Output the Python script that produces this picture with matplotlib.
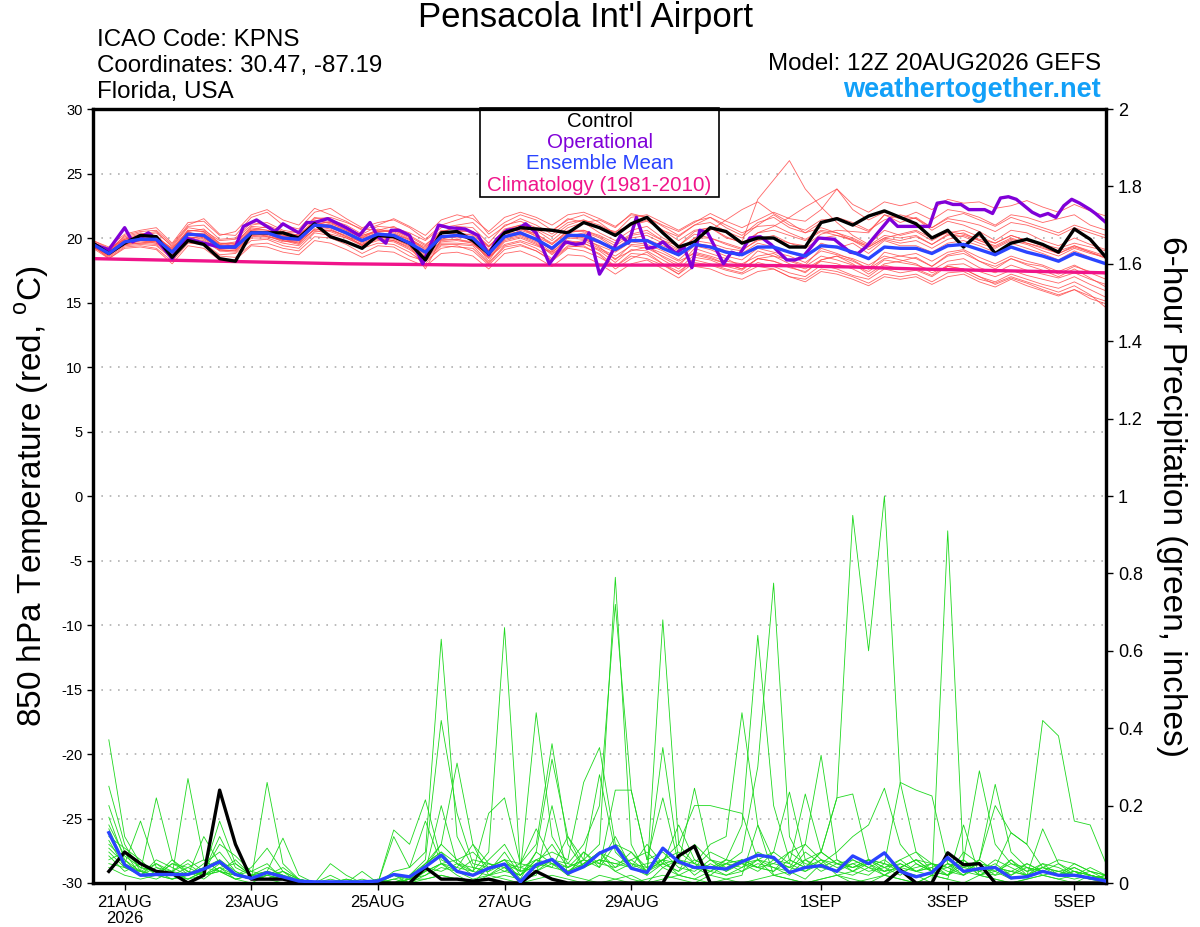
import matplotlib
matplotlib.use("Agg")
import matplotlib.pyplot as plt
from matplotlib.patches import Rectangle

plt.rcParams['font.family'] = ['Liberation Sans', 'DejaVu Sans']
plt.rcParams['axes.unicode_minus'] = False

# forecast hours from 12Z 20AUG2026 (6-hourly)
hours = list(range(0, 385, 6))
precip_hours = list(range(6, 385, 6))

tick_hours = [12, 60, 108, 156, 204, 276, 324, 372]
tick_labels = ['21AUG\n2026', '23AUG', '25AUG', '27AUG', '29AUG', '1SEP', '3SEP', '5SEP']

# 850 hPa temperature (C)
control_temp = [19.6, 18.8, 19.6, 20.2, 20.1, 18.5, 19.8, 19.5, 18.4, 18.2,
                20.4, 20.4, 20.4, 20.0, 21.1, 20.1, 19.7, 19.2, 20.2, 20.1,
                19.6, 18.3, 20.4, 20.5, 19.8, 18.8, 20.4, 20.8, 20.7, 20.6,
                20.4, 21.2, 20.8, 20.2, 21.1, 21.6, 20.4, 19.3, 19.7, 20.8,
                20.5, 19.6, 20.0, 20.0, 19.3, 19.3, 21.2, 21.5, 21.0, 21.7,
                22.1, 21.6, 21.1, 20.0, 20.6, 19.3, 20.4, 18.8, 19.6, 19.9,
                19.5, 18.9, 20.7, 19.9, 18.5]

mean_temp = [19.5, 18.8, 19.7, 19.9, 19.9, 18.9, 20.3, 20.2, 19.3, 19.3,
             20.4, 20.4, 20.0, 19.9, 21.0, 20.9, 20.4, 19.8, 20.3, 20.2,
             19.6, 18.9, 20.1, 20.2, 20.0, 18.8, 20.1, 20.4, 19.9, 19.2,
             20.2, 20.2, 19.7, 19.1, 19.8, 19.8, 19.2, 18.7, 19.5, 19.3,
             18.9, 18.7, 19.3, 19.3, 18.9, 18.6, 19.4, 19.3, 18.9, 18.4,
             19.3, 19.2, 19.2, 18.8, 19.4, 19.5, 19.1, 18.7, 19.3, 18.9,
             18.6, 18.2, 18.8, 18.4, 18.0]

# operational run, read at its own (about 3-hourly) times
op_hours = [0, 6, 12, 15, 21, 24, 30, 35, 42, 48, 54, 57, 62, 69, 72, 78, 81, 84, 89,
            96, 101, 105, 108, 111, 113, 116, 120, 125, 131, 135, 141, 146, 150, 153,
            157, 161, 164, 168, 173, 179, 183, 186, 188, 192, 195, 200, 203, 206, 210,
            213, 216, 221, 224, 227, 230, 233, 239, 242, 245, 249, 253, 257, 263, 266,
            269, 275, 281, 287, 290, 293, 302, 305, 311, 317, 320, 323, 326, 329, 332,
            338, 341, 344, 347, 350, 356, 359, 362, 365, 368, 371, 374, 378, 380, 384]
op_temp = [19.5, 19.1, 20.8, 19.7, 20.4, 19.9, 18.4, 20.0, 19.6, 19.3, 19.3, 20.9, 21.4,
           20.5, 21.1, 20.4, 21.2, 21.2, 21.5, 20.8, 20.2, 21.2, 20.1, 19.6, 20.6, 20.6,
           20.2, 18.0, 21.0, 20.8, 20.7, 20.2, 18.7, 19.9, 20.6, 20.7, 21.1, 20.4, 18.0,
           19.7, 19.5, 19.6, 20.4, 17.2, 18.2, 20.2, 19.6, 21.6, 19.2, 19.3, 19.7, 18.8,
           19.3, 17.7, 20.6, 20.4, 18.0, 18.9, 18.7, 20.0, 20.1, 19.5, 18.3, 18.3, 18.5,
           20.0, 19.9, 18.9, 18.8, 19.3, 21.5, 20.9, 20.9, 20.9, 22.7, 22.8, 22.6, 22.6,
           22.2, 22.2, 21.9, 23.1, 23.2, 23.0, 22.0, 21.7, 21.9, 21.6, 22.5, 23.0, 22.7,
           22.2, 21.9, 21.2]

clim_hours = list(range(0, 385, 24))
clim_temp = [18.4, 18.3, 18.2, 18.1, 18.0, 17.95, 17.9, 17.9, 17.9, 17.9, 17.9,
             17.85, 17.75, 17.6, 17.5, 17.4, 17.3]

temp_members = [
    [19.7, 19.0, 20.0, 20.3, 20.5, 19.3, 20.8, 20.6, 19.8, 19.9, 21.0, 21.2, 20.6, 20.4, 21.6, 21.4,
     21.0, 20.3, 20.9, 20.8, 20.4, 19.8, 20.8, 21.0, 21.2, 20.0, 20.9, 21.5, 21.0, 20.3, 21.2, 21.4,
     20.8, 20.5, 21.0, 21.3, 20.6, 20.1, 21.0, 21.2, 20.5, 20.0, 21.0, 21.8, 21.0, 20.6, 21.4, 21.5,
     21.0, 20.5, 21.8, 21.5, 22.0, 21.4, 22.2, 22.0, 21.6, 21.0, 21.8, 21.6, 21.2, 21.5, 21.8, 21.0, 20.6],
    [19.3, 18.5, 19.4, 19.5, 19.4, 18.4, 19.8, 19.6, 18.7, 18.8, 19.8, 19.9, 19.4, 19.2, 20.4, 20.2,
     19.7, 19.2, 19.6, 19.5, 18.9, 18.0, 19.4, 19.3, 19.2, 18.0, 19.3, 19.5, 19.0, 18.2, 19.2, 19.0,
     18.5, 17.8, 18.6, 18.4, 17.9, 17.2, 18.1, 17.9, 17.5, 17.2, 17.8, 17.6, 17.0, 16.8, 17.6, 17.4,
     17.0, 16.5, 17.2, 17.0, 17.2, 16.6, 17.3, 17.4, 16.8, 16.5, 17.0, 16.6, 16.2, 15.8, 16.3, 15.6, 14.6],
    [19.5, 18.9, 19.8, 20.0, 20.2, 19.0, 20.6, 20.5, 19.5, 19.6, 20.9, 20.8, 20.2, 20.1, 21.3, 21.2,
     20.6, 20.0, 20.7, 20.4, 19.8, 19.2, 20.5, 20.8, 20.4, 19.3, 20.6, 21.0, 20.6, 19.8, 20.8, 21.2,
     20.4, 19.8, 20.6, 20.9, 20.0, 19.4, 20.5, 20.8, 20.0, 19.7, 23.0, 24.5, 26.0, 23.8, 22.4, 21.2,
     20.2, 19.5, 20.6, 20.2, 20.5, 19.8, 20.5, 20.3, 19.9, 19.6, 20.2, 19.8, 19.5, 19.2, 19.6, 19.3, 19.0],
    [19.6, 19.1, 20.1, 20.4, 20.1, 19.2, 20.5, 20.7, 19.6, 19.4, 20.6, 20.9, 20.4, 20.5, 21.5, 21.6,
     21.2, 20.7, 20.6, 20.9, 20.2, 19.5, 20.4, 20.9, 20.8, 19.6, 21.0, 21.3, 20.8, 20.5, 21.5, 21.2,
     21.4, 20.8, 21.9, 21.6, 21.0, 20.5, 21.2, 21.9, 21.3, 20.8, 21.4, 22.0, 21.5, 21.3, 22.2, 23.8,
     22.6, 22.0, 22.8, 22.5, 22.8, 22.2, 23.0, 22.7, 22.8, 22.3, 22.5, 22.9, 22.4, 22.0, 22.6, 22.1, 21.7],
    [19.4, 18.6, 19.6, 19.7, 19.6, 18.7, 20.1, 19.9, 19.1, 19.0, 20.2, 20.1, 19.8, 19.5, 20.7, 20.5,
     20.0, 19.4, 20.0, 19.8, 19.3, 18.5, 19.8, 19.9, 19.6, 18.4, 19.7, 20.0, 19.5, 18.8, 19.6, 19.8,
     19.2, 18.6, 19.4, 19.2, 18.6, 18.0, 18.9, 18.6, 18.2, 18.0, 18.6, 18.8, 18.2, 17.8, 18.6, 18.3,
     17.9, 17.4, 18.3, 18.1, 17.9, 17.5, 18.2, 18.4, 17.7, 17.3, 17.9, 17.5, 17.2, 16.9, 17.3, 16.8, 16.4],
    [19.5, 18.8, 19.6, 20.0, 19.7, 18.6, 20.2, 20.4, 19.4, 19.2, 20.5, 20.1, 19.9, 19.6, 21.2, 20.8,
     20.3, 19.6, 20.1, 20.0, 19.4, 17.6, 19.9, 20.2, 19.8, 18.2, 20.0, 20.6, 20.2, 19.0, 20.4, 20.0,
     19.3, 18.3, 19.5, 19.4, 18.5, 17.8, 19.2, 18.8, 18.4, 17.8, 19.0, 18.6, 18.3, 17.9, 19.2, 18.8,
     18.3, 17.6, 18.9, 18.6, 18.4, 17.8, 18.7, 19.0, 18.2, 17.6, 18.4, 17.9, 17.5, 17.0, 17.6, 16.9, 16.2],
    [19.8, 19.2, 19.9, 20.2, 20.0, 19.1, 20.4, 20.3, 19.5, 19.7, 20.8, 20.6, 20.1, 20.3, 21.0, 21.3,
     20.8, 20.1, 20.5, 20.6, 20.0, 19.1, 20.3, 20.5, 20.5, 19.4, 20.4, 20.8, 20.1, 19.5, 20.6, 20.6,
     20.2, 19.6, 20.3, 20.6, 19.8, 19.4, 20.3, 20.0, 19.6, 19.2, 20.4, 20.9, 21.6, 22.4, 23.1, 23.8,
     22.2, 21.4, 22.0, 21.6, 21.5, 20.6, 21.3, 21.0, 20.5, 19.8, 20.6, 20.4, 19.8, 19.4, 20.0, 19.5, 19.1],
    [19.3, 18.7, 19.5, 19.6, 19.8, 18.8, 20.0, 19.8, 19.0, 19.1, 20.1, 20.2, 19.7, 19.8, 20.6, 20.3,
     20.0, 19.5, 19.9, 19.8, 19.2, 18.4, 19.6, 19.6, 19.5, 18.5, 19.5, 19.8, 19.4, 18.9, 19.8, 19.6,
     19.1, 18.4, 19.0, 19.3, 18.8, 18.2, 18.8, 18.5, 18.0, 17.6, 18.4, 18.6, 18.0, 17.6, 18.3, 18.6,
     18.0, 17.2, 18.0, 18.2, 18.5, 17.8, 18.6, 18.8, 18.2, 17.8, 18.4, 18.0, 17.8, 17.2, 17.8, 17.4, 17.2],
    [19.6, 19.0, 20.2, 20.5, 20.6, 19.5, 21.0, 21.5, 20.3, 20.2, 21.6, 22.0, 21.0, 20.7, 22.0, 22.3,
     21.5, 20.8, 21.2, 21.4, 20.8, 19.9, 21.0, 21.4, 21.8, 20.3, 21.2, 21.8, 21.4, 20.6, 21.4, 21.8,
     21.2, 20.3, 21.0, 21.4, 20.6, 19.8, 20.6, 20.8, 20.1, 19.6, 20.4, 20.6, 20.2, 19.8, 20.5, 20.2,
     19.9, 19.3, 20.0, 20.3, 20.6, 20.0, 20.4, 20.6, 20.1, 19.6, 20.2, 19.8, 19.4, 19.0, 19.4, 19.0, 18.6],
    [19.4, 18.4, 19.3, 19.4, 19.2, 18.2, 19.6, 19.5, 18.6, 18.5, 19.5, 19.6, 19.2, 19.0, 20.1, 20.0,
     19.5, 18.8, 19.4, 19.3, 18.6, 18.2, 19.2, 19.4, 19.0, 17.9, 19.1, 19.4, 19.0, 18.3, 19.3, 19.4,
     18.7, 17.6, 18.4, 18.9, 18.0, 17.4, 18.3, 18.0, 17.6, 17.3, 18.1, 17.8, 17.3, 17.0, 17.9, 17.6,
     17.1, 16.8, 17.6, 17.3, 17.5, 17.0, 17.8, 17.6, 17.0, 16.6, 17.2, 16.8, 16.4, 16.1, 16.6, 16.0, 15.4],
    [19.5, 19.0, 19.8, 20.1, 20.2, 19.0, 20.5, 20.0, 19.3, 19.5, 20.6, 20.5, 20.2, 19.9, 21.1, 21.0,
     20.5, 19.9, 20.4, 20.2, 19.7, 18.9, 20.2, 20.0, 20.1, 19.0, 20.3, 20.5, 19.8, 19.1, 20.1, 20.4,
     19.8, 19.0, 19.9, 19.8, 19.2, 18.6, 19.6, 19.4, 19.0, 18.8, 19.6, 19.3, 18.9, 18.4, 19.6, 19.2,
     19.6, 18.8, 19.8, 19.4, 19.4, 18.9, 19.6, 19.8, 19.4, 18.9, 19.6, 19.2, 18.8, 18.3, 19.0, 18.5, 18.0],
    [19.6, 18.9, 19.7, 19.9, 20.0, 19.1, 20.4, 20.1, 19.2, 19.5, 20.5, 20.3, 20.1, 20.0, 21.2, 21.0,
     20.6, 20.0, 20.4, 20.3, 19.9, 19.0, 20.4, 20.6, 20.5, 19.3, 20.7, 21.0, 20.7, 20.1, 21.0, 21.4,
     21.0, 20.4, 21.6, 21.8, 21.2, 20.6, 21.3, 21.6, 21.0, 20.4, 20.9, 21.0, 20.4, 19.9, 20.6, 20.4,
     20.0, 19.4, 20.2, 20.0, 20.2, 19.5, 20.3, 20.1, 19.6, 19.2, 19.8, 19.5, 19.0, 18.6, 19.2, 18.8, 18.5],
    [19.4, 18.8, 19.6, 19.8, 19.7, 18.9, 20.3, 20.0, 19.2, 19.2, 20.3, 20.4, 19.9, 19.7, 20.9, 20.7,
     20.1, 19.7, 20.2, 20.1, 19.5, 18.8, 19.9, 19.9, 19.7, 18.6, 19.9, 20.2, 19.7, 18.9, 20.0, 19.9,
     19.4, 18.9, 19.7, 19.5, 19.0, 18.3, 19.4, 19.1, 18.6, 18.3, 19.2, 18.9, 18.6, 18.1, 19.0, 18.7,
     18.4, 17.9, 18.6, 18.3, 18.0, 17.3, 17.8, 17.6, 17.0, 16.4, 16.9, 16.5, 16.0, 15.6, 16.0, 15.5, 15.1],
    [19.7, 19.1, 19.9, 20.2, 20.4, 19.4, 20.9, 21.0, 19.9, 20.0, 21.2, 21.0, 20.5, 20.2, 21.4, 21.1,
     20.7, 20.2, 20.6, 20.6, 20.1, 19.4, 20.6, 20.4, 20.2, 18.9, 20.5, 20.8, 20.3, 19.6, 20.5, 20.5,
     20.0, 19.2, 20.0, 20.2, 19.6, 19.0, 19.8, 19.6, 19.2, 19.0, 19.9, 20.2, 19.6, 19.2, 20.0, 20.2,
     19.8, 19.1, 19.9, 19.6, 19.8, 19.2, 19.9, 20.2, 19.8, 19.4, 20.0, 19.6, 19.3, 18.8, 19.4, 18.9, 18.5],
    [19.3, 18.6, 19.5, 19.6, 19.5, 18.5, 19.9, 20.2, 19.0, 18.9, 20.0, 20.0, 19.6, 19.4, 20.5, 20.6,
     20.2, 19.4, 19.8, 19.7, 19.1, 18.3, 19.5, 19.5, 19.4, 18.1, 19.4, 19.7, 19.2, 18.4, 19.4, 19.3,
     18.8, 17.8, 18.8, 18.7, 18.0, 17.2, 18.5, 18.3, 17.8, 17.5, 18.4, 18.2, 17.7, 17.4, 18.2, 18.0,
     17.6, 17.0, 17.9, 17.6, 17.6, 17.1, 17.9, 18.0, 17.4, 17.0, 17.5, 17.1, 16.8, 16.5, 17.0, 16.4, 15.9],
    [19.5, 18.9, 19.9, 20.1, 20.0, 19.2, 20.6, 20.5, 19.6, 19.6, 20.7, 20.6, 20.3, 20.2, 21.3, 21.2,
     20.8, 20.2, 20.5, 20.5, 19.9, 19.3, 20.4, 20.3, 20.3, 19.1, 20.4, 20.7, 20.3, 19.5, 20.4, 20.6,
     20.1, 19.4, 20.2, 20.4, 19.8, 19.1, 20.0, 20.0, 19.5, 19.1, 19.8, 20.0, 19.6, 19.4, 20.3, 20.6,
     20.5, 20.4, 21.8, 21.2, 21.6, 20.8, 21.5, 21.3, 21.0, 20.5, 21.2, 21.0, 20.6, 20.2, 20.8, 20.4, 20.0],
    [19.8, 19.3, 20.3, 20.6, 20.8, 19.6, 21.2, 21.3, 20.2, 20.5, 21.8, 22.2, 21.4, 21.0, 22.3, 21.8,
     21.3, 20.6, 21.0, 21.5, 20.9, 20.2, 21.4, 21.8, 21.5, 20.5, 21.6, 22.0, 21.6, 21.0, 21.8, 22.0,
     21.5, 20.9, 21.8, 21.6, 20.9, 20.2, 21.0, 21.6, 20.8, 20.2, 21.2, 21.6, 20.8, 20.4, 21.2, 21.6,
     21.2, 20.6, 21.4, 21.8, 21.5, 20.8, 21.6, 21.9, 21.4, 20.9, 21.6, 21.2, 20.8, 20.4, 21.0, 20.6, 20.2],
    [19.2, 18.4, 19.2, 19.3, 19.1, 18.0, 19.4, 19.2, 18.3, 18.3, 19.4, 19.3, 18.9, 18.7, 19.8, 19.6,
     19.1, 18.5, 19.0, 18.9, 18.3, 17.8, 18.8, 18.9, 18.6, 17.6, 18.8, 19.0, 18.5, 17.8, 18.7, 18.6,
     18.0, 17.2, 18.0, 18.3, 17.6, 16.9, 17.8, 17.6, 17.1, 16.8, 17.4, 17.6, 17.0, 16.6, 17.4, 17.2,
     16.8, 16.3, 17.0, 16.8, 17.0, 16.4, 17.0, 17.2, 16.6, 16.2, 16.8, 16.3, 15.9, 15.5, 16.0, 15.3, 14.9],
    [19.5, 18.7, 19.7, 19.8, 19.9, 18.9, 20.2, 20.2, 19.2, 19.3, 20.4, 20.3, 19.9, 19.8, 20.9, 20.8,
     20.3, 19.7, 20.2, 20.1, 19.5, 18.7, 20.0, 20.1, 19.9, 18.7, 20.0, 20.3, 19.8, 19.1, 20.1, 20.0,
     19.6, 19.0, 19.8, 19.9, 19.4, 18.9, 20.0, 20.6, 21.4, 22.2, 22.8, 21.9, 21.2, 20.4, 20.8, 20.4,
     19.8, 19.3, 20.0, 19.8, 20.1, 19.5, 20.2, 20.4, 19.8, 19.3, 19.9, 19.6, 19.2, 18.8, 19.3, 18.9, 18.4],
    [19.4, 18.7, 19.5, 19.8, 19.6, 18.7, 20.0, 20.1, 19.1, 19.0, 20.2, 20.3, 19.8, 19.6, 20.7, 20.6,
     20.1, 19.5, 20.1, 19.9, 19.4, 18.6, 19.7, 19.8, 19.6, 18.5, 19.8, 20.1, 19.6, 18.7, 19.7, 19.6,
     19.0, 18.1, 19.1, 19.0, 18.3, 17.6, 18.7, 18.4, 18.0, 17.6, 18.4, 18.2, 17.8, 17.3, 18.3, 18.6,
     18.2, 17.6, 18.4, 18.6, 18.8, 18.2, 18.9, 19.1, 18.5, 18.0, 18.6, 18.2, 17.9, 17.4, 17.9, 17.3, 16.8],
]

# 6-hour precipitation (inches), 18Z 20AUG onward
control_precip = [0.03, 0.08, 0.05, 0.03, 0.025, 0.0, 0.02, 0.24, 0.10, 0.01,
                  0.01, 0.01, 0.0, 0.0, 0.0, 0.0, 0.0, 0.0, 0.0, 0.0,
                  0.04, 0.01, 0.01, 0.005, 0.01, 0.0, 0.0, 0.03, 0.01, 0.0,
                  0.0, 0.0, 0.0, 0.0, 0.0, 0.0, 0.07, 0.095, 0.0, 0.0,
                  0.0, 0.0, 0.0, 0.0, 0.0, 0.0, 0.0, 0.0, 0.0, 0.0,
                  0.034, 0.0, 0.0, 0.078, 0.047, 0.05, 0.0, 0.0, 0.0, 0.0,
                  0.0, 0.0, 0.0, 0.0]

mean_precip = [0.13, 0.047, 0.02, 0.022, 0.022, 0.022, 0.036, 0.055, 0.022, 0.012,
               0.027, 0.016, 0.005, 0.003, 0.003, 0.003, 0.003, 0.005, 0.022, 0.016,
               0.042, 0.072, 0.03, 0.02, 0.038, 0.049, 0.003, 0.047, 0.061, 0.025,
               0.042, 0.077, 0.095, 0.038, 0.027, 0.09, 0.055, 0.04, 0.04, 0.036,
               0.055, 0.072, 0.066, 0.027, 0.04, 0.045, 0.03, 0.07, 0.05, 0.078,
               0.03, 0.016, 0.027, 0.066, 0.03, 0.037, 0.04, 0.013, 0.016, 0.03,
               0.02, 0.02, 0.013, 0.005]

precip_members = [
    [.37, .12, .05, .02, .01, .03, .02, .04, .01, 0, .02, .01, 0, 0, 0, 0, 0, 0, .02, .01,
     .05, .08, .03, .01, .02, .04, 0, .03, .06, .02, .05, .08, .03, .01, 0, .04, .02, .01, .03, .02,
     .03, .05, .04, .02, .06, .08, .22, .95, .60, 1.0, .26, .08, .03, .05, .02, .04, .03, .01, .02, .03,
     .02, .01, .02, .01],
    [.25, .10, .03, .05, .02, .01, .03, .06, .02, .01, .01, 0, 0, 0, .01, 0, 0, 0, 0, 0,
     .02, .05, .02, 0, .04, .06, .01, .08, .05, .03, .06, .10, .79, .10, .02, .05, .03, .06, .04, .02,
     .04, .06, .02, .03, .01, .05, .03, .02, .04, .06, .03, .02, 0, .91, .05, .02, .03, .06, .02, .04,
     .03, .02, .01, .02],
    [.20, .08, .04, .03, .01, .02, .05, .08, .03, .01, .03, .02, 0, 0, 0, 0, .01, 0, .03, .04,
     .08, .63, .12, .04, .03, .08, .02, .05, .10, .04, .06, .04, .10, .08, .03, .06, .02, .04, .02, .05,
     .08, .30, .775, .12, .04, .06, .02, .03, .05, .02, .04, .03, .02, .05, .03, .02, .04, .02, .05, .03,
     .02, .03, .01, .02],
    [.17, .06, .02, .04, .03, .05, .02, .03, .01, .02, .01, .01, 0, 0, 0, 0, 0, .01, 0, .02,
     .05, .10, .06, .03, .08, .66, .04, .03, .05, .02, .08, .05, .12, .04, .03, .35, .06, .02, .05, .03,
     .06, .04, .03, .08, .05, .04, .06, .03, .02, .05, .04, .06, .03, .02, .08, .05, .04, .13, .10, .42,
     .38, .16, .15, .05],
    [.13, .05, .16, .04, .02, .01, .03, .12, .04, .02, .04, .02, 0, 0, 0, .01, 0, 0, 0, .01,
     .03, .05, .03, .02, .05, .04, .02, .06, .04, .03, .05, .08, .06, .04, .02, .68, .10, .05, .03, .06,
     .15, .64, .20, .06, .04, .08, .05, .03, .06, .04, .02, .05, .03, .06, .04, .05, .02, .03, .02, .04,
     .03, .02, .04, .02],
    [.12, .09, .06, .02, .05, .04, .02, .05, .02, .01, .02, .03, .01, 0, 0, 0, 0, 0, .01, 0,
     .04, .03, .05, .02, .06, .10, .03, .44, .12, .05, .10, .20, .72, .24, .06, .08, .04, .03, .06, .05,
     .04, .08, .06, .04, .10, .06, .04, .05, .03, .04, .06, .03, .05, .04, .02, .06, .03, .05, .04, .02,
     .03, .04, .02, .01],
    [.10, .06, .03, .22, .06, .03, .01, .04, .02, .03, .05, .01, 0, 0, 0, 0, 0, 0, .01, .02,
     .06, .42, .18, .05, .04, .06, .05, .10, .36, .10, .04, .06, .03, .05, .04, .06, .08, .05, .10, .12,
     .44, .15, .06, .04, .06, .03, .05, .06, .04, .02, .05, .03, .04, .02, .06, .03, .05, .02, .04, .03,
     .02, .05, .03, .01],
    [.15, .07, .04, .03, .02, .27, .06, .03, .01, .02, .01, .01, 0, 0, 0, 0, 0, 0, 0, .01,
     .04, .10, .31, .10, .05, .03, .02, .08, .32, .12, .06, .05, .04, .08, .04, .05, .03, .10, .06, .04,
     .06, .04, .08, .05, .03, .05, .08, .12, .15, .245, .10, .05, .03, .04, .06, .02, .04, .03, .02, .05,
     .04, .02, .01, .02],
    [.11, .04, .02, .06, .04, .02, .12, .05, .02, .01, .26, .05, .01, 0, 0, 0, 0, 0, 0, .01,
     .02, .04, .03, .06, .05, .04, .02, .06, .08, .06, .26, .35, .10, .05, .03, .06, .05, .245, .06, .03,
     .05, .06, .04, .03, .08, .05, .03, .06, .04, .03, .04, .06, .05, .02, .04, .03, .02, .06, .03, .05,
     .02, .03, .02, .01],
    [.14, .05, .03, .02, .06, .02, .04, .03, .06, .02, .03, .116, .02, 0, 0, .01, 0, 0, .137, .10,
     .215, .06, .04, .03, .02, .05, .03, .04, .06, .03, .05, .08, .04, .06, .03, .05, .06, .04, .03, .05,
     .06, .04, .05, .08, .10, .33, .06, .04, .05, .03, .06, .08, .05, .04, .06, .29, .10, .05, .03, .04,
     .02, .03, .02, .01],
    [.09, .05, .02, .05, .03, .06, .03, .10, .07, .03, .02, .04, .01, 0, .05, .02, 0, 0, .02, 0,
     .05, .08, .05, .03, .18, .22, .05, .14, .06, .04, .06, .28, .08, .04, .10, .05, .15, .06, .04, .05,
     .03, .06, .08, .235, .06, .04, .03, .05, .06, .03, .04, .06, .03, .02, .05, .03, .06, .04, .02, .14,
     .05, .03, .02, .01],
    [.08, .04, .03, .02, .05, .03, .02, .04, .05, .02, .03, .02, .01, 0, 0, 0, .03, 0, .12, .04,
     .16, .05, .06, .08, .04, .06, .03, .05, .04, .12, .04, .06, .05, .06, .08, .04, .06, .05, .04, .06,
     .05, .03, .06, .05, .23, .08, .05, .04, .06, .05, .26, .24, .225, .05, .04, .06, .255, .08, .04, .03,
     .05, .02, .03, .02],
    [.07, .03, .05, .03, .02, .04, .06, .03, .02, .04, .09, .03, .01, 0, 0, 0, 0, .01, 0, 0,
     .03, .20, .05, .04, .03, .05, .04, .06, .05, .04, .08, .04, .24, .24, .06, .22, .05, .04, .08, .06,
     .05, .04, .03, .06, .04, .08, .22, .23, .06, .04, .05, .03, .04, .06, .03, .05, .04, .03, .05, .03,
     .02, .04, .02, .01],
    [.06, .08, .02, .01, .03, .02, .04, .06, .03, .01, .01, .02, 0, 0, .02, 0, 0, 0, 0, .01,
     .03, .05, .04, .10, .02, .03, .05, .04, .06, .05, .04, .06, .05, .04, .05, .06, .10, .20, .20, .19,
     .18, .06, .05, .04, .03, .06, .05, .04, .06, .05, .03, .04, .05, .03, .02, .06, .20, .13, .10, .04,
     .06, .05, .03, .02],
    [.05, .04, .03, .02, .01, .02, .03, .16, .05, .02, .01, .03, 0, 0, 0, 0, 0, 0, 0, .01,
     .01, .02, .01, 0, .02, .01, 0, .01, .02, .01, 0, .02, .01, 0, .01, .02, .01, 0, .02, .01,
     0, .01, .02, .01, 0, .01, .02, 0, .01, .02, .01, 0, .02, .01, .15, .02, .01, 0, .01, .02,
     .01, 0, .02, .01],
    [.04, .02, .01, .02, .03, .01, .02, .03, .02, .01, .02, .01, 0, 0, 0, 0, 0, 0, 0, 0,
     .01, .02, .01, 0, .01, .02, .01, .02, .20, .02, .01, 0, .01, .02, 0, .01, .02, .01, 0, .01,
     .02, .15, .02, .01, 0, .01, .02, .01, 0, .02, .01, 0, .02, .01, 0, .02, .01, 0, .01, .02,
     .01, .02, .01, 0],
]

for m in temp_members:
    assert len(m) == len(hours), len(m)
for m in precip_members:
    assert len(m) == len(precip_hours), len(m)

red = '#ff4a4a'
green = '#1ed81e'
purple = '#8000d8'
blue = '#2a44ff'
pink = '#f0148a'

fig = plt.figure(figsize=(12, 9.27), dpi=100)
ax = fig.add_axes([93 / 1200, 1 - 883 / 927, (1106 - 93) / 1200, (883 - 109) / 927])
ax2 = ax.twinx()

# temperature plume
for m in temp_members:
    ax.plot(hours, m, color=red, lw=0.6, alpha=0.85, zorder=2)
ax.plot(clim_hours, clim_temp, color=pink, lw=2.4, zorder=3)
ax.plot(op_hours, op_temp, color=purple, lw=2.4, zorder=4)
ax.plot(hours, control_temp, color='black', lw=2.4, zorder=5)
ax.plot(hours, mean_temp, color=blue, lw=2.4, zorder=6)

# precipitation plume
for m in precip_members:
    ax2.plot(precip_hours, m, color=green, lw=0.6, zorder=2)
ax2.plot(precip_hours, control_precip, color='black', lw=2.4, zorder=5)
ax2.plot(precip_hours, mean_precip, color=blue, lw=2.4, zorder=6)

ax.set_xlim(0, 384)
ax.set_ylim(-30, 30)
ax2.set_ylim(0, 2)
ax.set_yticks(range(-30, 31, 5))
ax2.set_yticks([0, 0.2, 0.4, 0.6, 0.8, 1, 1.2, 1.4, 1.6, 1.8, 2])
ax2.set_yticklabels(['0', '0.2', '0.4', '0.6', '0.8', '1', '1.2', '1.4', '1.6', '1.8', '2'])
ax.set_xticks(tick_hours)
ax.set_xticklabels(tick_labels, fontsize=12, linespacing=1.1)
ax.tick_params(axis='y', labelsize=10.5, length=4, width=1)
ax2.tick_params(axis='y', labelsize=13, length=5, width=1)
ax.tick_params(axis='x', length=5, width=1)

for a in (ax, ax2):
    for s in a.spines.values():
        s.set_linewidth(2.3)

ax.yaxis.grid(True, color='#b0b0b0', linestyle=(0, (1, 4)), lw=1.2)
ax.set_axisbelow(True)

fig.text(32 / 1200, 1 - 496 / 927, '850 hPa Temperature (red, $^{\\mathregular{o}}$C)', fontsize=24,
         rotation=90, ha='center', va='center')
fig.text(1171 / 1200, 1 - 496 / 927, '6-hour Precipitation (green, inches)', fontsize=24,
         rotation=-90, ha='center', va='center')

# legend box with centred coloured labels
def ax_x(px):
    return (px - 93) / 1013


def ax_y(py):
    return (883 - py) / 774


ax.add_patch(Rectangle((ax_x(480), ax_y(197)), ax_x(719) - ax_x(480), ax_y(108) - ax_y(197),
                       transform=ax.transAxes, facecolor='white', edgecolor='black', lw=1.2,
                       zorder=10, clip_on=False))
legend_labels = ['Control', 'Operational', 'Ensemble Mean', 'Climatology (1981-2010)']
legend_colors = ['black', purple, blue, pink]
legend_y = [121, 142, 163, 185]
for lab, c, py in zip(legend_labels, legend_colors, legend_y):
    ax.text(ax_x(599.5), ax_y(py), lab, color=c, fontsize=14.8, ha='center', va='center',
            transform=ax.transAxes, zorder=11)

fig.text(585 / 1200, 1 - 18 / 927, "Pensacola Int'l Airport", fontsize=25, ha='center', va='center')
fig.text(97 / 1200, 1 - 40 / 927, 'ICAO Code: KPNS', fontsize=17.4, ha='left', va='center')
fig.text(97 / 1200, 1 - 66 / 927, 'Coordinates: 30.47, -87.19', fontsize=17.4, ha='left', va='center')
fig.text(97 / 1200, 1 - 92 / 927, 'Florida, USA', fontsize=17.4, ha='left', va='center')
fig.text(1101 / 1200, 1 - 64 / 927, 'Model: 12Z 20AUG2026 GEFS', fontsize=17.4, ha='right', va='center')
fig.text(1101 / 1200, 1 - 90 / 927, 'weathertogether.net', fontsize=19.5, fontweight='bold',
         color='#12a0f8', ha='right', va='center')

fig.savefig('out.png', dpi=100)
